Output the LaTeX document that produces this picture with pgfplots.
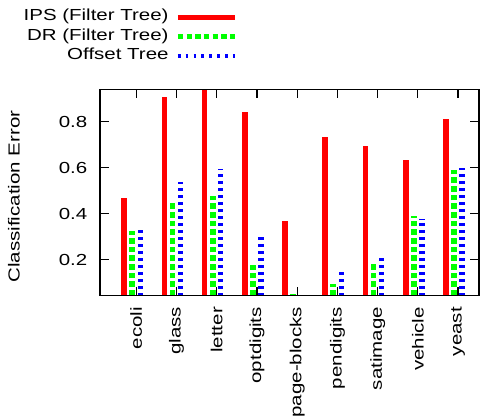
\documentclass[border=0pt]{standalone}
\usepackage{fontspec}
\setmainfont{Liberation Sans}[FakeStretch=1.28]
\usepackage{pgfplots}
\usepackage{pgfplotstable}
\pgfplotsset{compat=1.18}
\definecolor{ipsred}{RGB}{255,0,0}
\definecolor{drgreen}{RGB}{0,255,0}
\definecolor{otblue}{RGB}{0,0,255}

\pgfplotstableread{
x ips dr ot
0 0.467 0.327 0.347
1 0.909 0.447 0.536
2 0.970 0.475 0.594
3 0.841 0.179 0.315
4 0.368 0.051 0.030
5 0.732 0.096 0.156
6 0.694 0.185 0.217
7 0.635 0.389 0.379
8 0.812 0.592 0.599
}\datatable

\begin{document}
\begin{tikzpicture}[font=\fontsize{12pt}{14pt}\selectfont]
\begin{axis}[
  at={(0pt,0pt)}, anchor=south west,
  scale only axis, width=284.25pt, height=154.8pt,
  xmin=-0.9, xmax=8.52, ymin=0.0435, ymax=0.941,
  axis on top,
  axis line style={black, line width=0.9pt},
  tick style={black, line width=0.9pt},
  major tick length=6.75pt,
  tick align=inside,
  xtick={0,1,2,3,4,5,6,7,8},
  xticklabels={ecoli,glass,letter,optdigits,page-blocks,pendigits,satimage,vehicle,yeast},
  xticklabel style={yshift=-5pt, rotate=90, anchor=east},
  ytick={0.2,0.4,0.6,0.8},
  yticklabel style={xshift=-6pt},
  /pgf/number format/assume math mode=true,
  /pgf/number format/fixed,
  /pgf/number format/precision=1,
  ylabel={Classification Error},
  every axis y label/.style={at={(axis description cs:-0.227,0.48)}, anchor=center, rotate=90},
  legend style={draw=none, fill=none, at={(axis description cs:0.3645,1.397)}, anchor=north east,
    inner sep=0pt, row sep=0pt, column sep=4pt,
    nodes={inner sep=1pt, text height=9pt, text depth=3.5pt}},
  legend plot pos=right, legend cell align=right,
  legend image code/.code={\draw[#1] (0pt,0pt) -- (43pt,0pt);},
]
\addplot[ycomb, ipsred, line width=4.3pt, forget plot] table[x expr=\thisrow{x}-0.3, y=ips] {\datatable};
\addplot[ycomb, drgreen, line width=4.3pt, dash pattern=on 4.3pt off 2.2pt, forget plot] table[x expr=\thisrow{x}-0.1, y=dr] {\datatable};
\addplot[ycomb, otblue, line width=4pt, dash pattern=on 1.75pt off 3.5pt, forget plot] table[x expr=\thisrow{x}+0.1, y=ot] {\datatable};
\addlegendimage{ipsred, line width=4pt}
\addlegendentry{IPS (Filter Tree)}
\addlegendimage{drgreen, line width=4pt, dash pattern=on 4pt off 2.5pt}
\addlegendentry{DR (Filter Tree)}
\addlegendimage{otblue, line width=3pt, dash pattern=on 2pt off 3.9pt}
\addlegendentry{Offset Tree}
\end{axis}
\pgfresetboundingbox
\useasboundingbox (-75pt,-89.5pt) rectangle (285pt,221.8pt);
\end{tikzpicture}
\end{document}
